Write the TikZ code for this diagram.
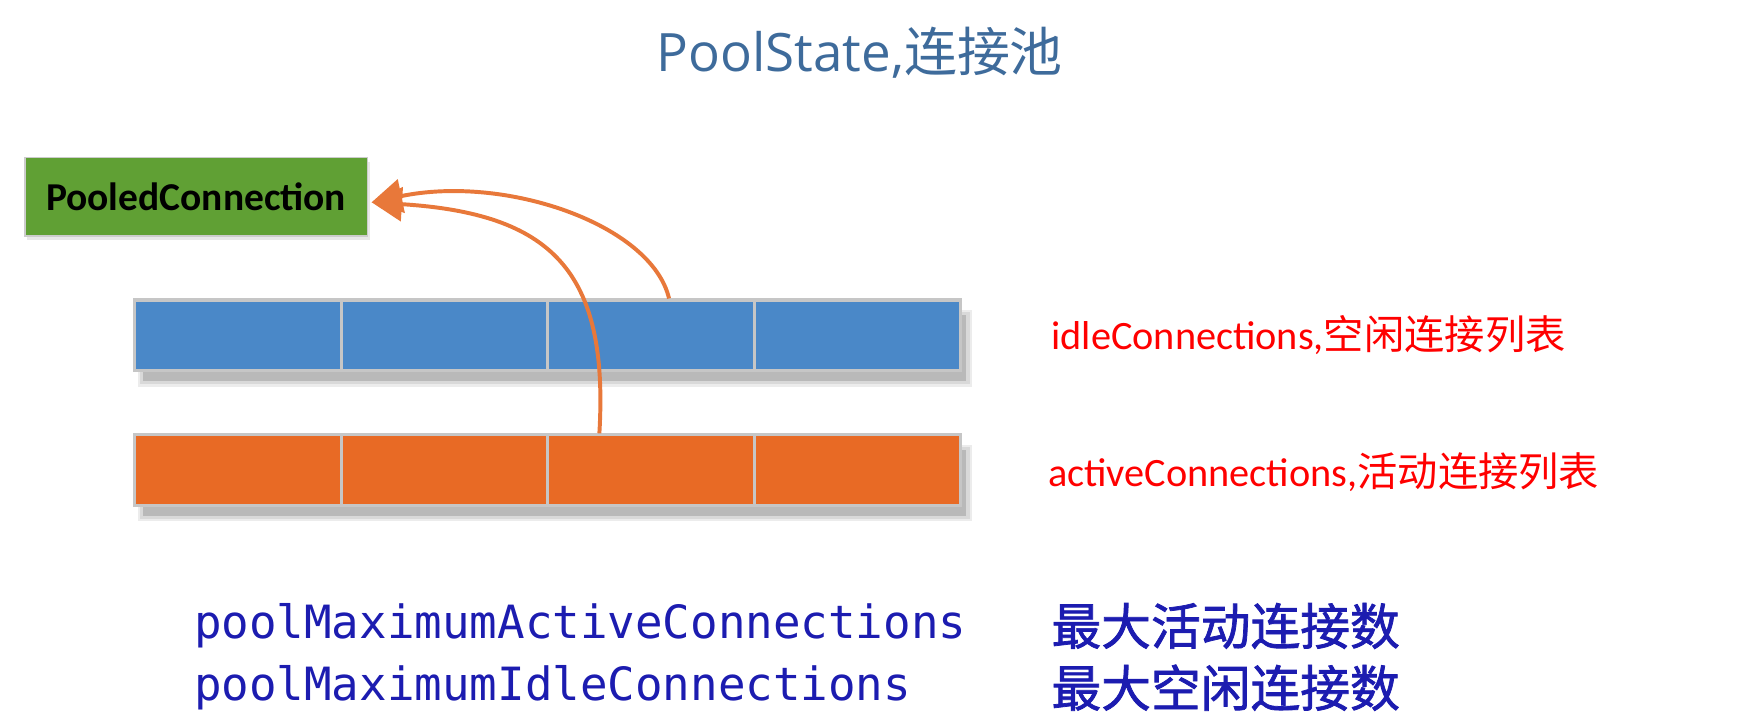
\documentclass[tikz,border=0pt]{standalone}
\usepackage{fontspec}
\setmainfont{Carlito}
\setmonofont{DejaVu Sans Mono}
\newfontfamily\cjk{Noto Sans CJK SC}
\newfontfamily\cjkb[FakeBold=1.5]{Noto Sans CJK SC}
\newfontfamily\titlefont{Open Sans}
\usetikzlibrary{arrows.meta}
\usetikzlibrary{shadows}
\definecolor{idleblue}{RGB}{74,136,200}
\definecolor{activeorange}{RGB}{232,106,37}
\definecolor{pcgreen}{RGB}{96,160,52}
\definecolor{titleblue}{RGB}{62,107,155}
\definecolor{arrorange}{RGB}{232,120,58}
\definecolor{codeblue}{RGB}{28,28,176}

\begin{document}
\begin{tikzpicture}[
		cell/.style={draw=gray!45, line width=0.8pt, minimum width=1.8375cm, minimum height=0.63cm, inner sep=0pt},
		barshadow/.style={fill=gray!55},
		redlabel/.style={anchor=west, inner sep=0pt, text=red, font=\fontsize{10.2pt}{12pt}\selectfont},
		codelabel/.style={anchor=west, inner sep=0pt, text=codeblue, font=\fontsize{11.6pt}{14pt}\selectfont\ttfamily},
		cnlabel/.style={anchor=west, inner sep=0pt, text=codeblue, font=\fontsize{12.6pt}{15pt}\selectfont\cjkb},
		link/.style={arrorange, line width=1pt, -{Triangle[length=0.27cm, width=0.3cm]}}
	]
		\useasboundingbox (0,0) rectangle (15.68,-6.478);

		% title
		\node[text=titleblue, inner sep=0pt] (title) at (7.65,-0.47)
			{\fontsize{13.4pt}{16pt}\selectfont\titlefont PoolState,\cjk 连接池};

		% pooled connection
		\node[draw=gray!40, fill=pcgreen, minimum width=3.05cm, minimum height=0.70cm,
			drop shadow={shadow xshift=0.02cm, shadow yshift=-0.04cm, fill=gray!30, opacity=0.6}]
			(pc) at (1.745,-1.75) {\fontsize{10pt}{12pt}\selectfont\bfseries PooledConnection};
		\coordinate (pctip) at ([xshift=0.03cm,yshift=-0.05cm]pc.east);

		% shadows of the two lists
		\fill[gray!15] (1.23,-3.44) rectangle (8.65,-2.76);
		\fill[gray!30] (1.25,-3.42) rectangle (8.63,-2.78);
		\fill[barshadow] (1.27,-3.39) rectangle (8.60,-2.80);
		\fill[gray!15] (1.23,-4.64) rectangle (8.65,-3.96);
		\fill[gray!30] (1.25,-4.62) rectangle (8.63,-3.98);
		\fill[barshadow] (1.27,-4.59) rectangle (8.60,-4.00);

		% idle / active lists
		\foreach \i in {1,...,4} {
			\node[cell, fill=idleblue] (idle\i) at ({1.20+(\i-0.5)*1.8375},-2.985) {};
			\node[cell, fill=activeorange] (active\i) at ({1.20+(\i-0.5)*1.8375},-4.185) {};
		}

		\node[redlabel] (idlelabel) at (9.35,-2.98) {idleConnections,\cjk 空闲连接列表};
		\node[redlabel] (activelabel) at (9.32,-4.20) {activeConnections,\cjk 活动连接列表};

		% connections go back to PooledConnection
		\draw[link] ([xshift=0.16cm]idle3.north) .. controls (5.8,-2.0) and (4.5,-1.55) .. (pctip);
		\draw[link] ([xshift=-0.46cm]active3.north) .. controls (5.42,-2.4) and (4.9,-1.9) .. (pctip);

		% limits
		\node[codelabel] (maxactive) at (1.72,-5.57) {poolMaximumActiveConnections};
		\node[codelabel] (maxidle) at (1.72,-6.12) {poolMaximumIdleConnections};
		\node[cnlabel] (maxactivecn) at (9.35,-5.57) {最大活动连接数};
		\node[cnlabel] (maxidlecn) at (9.35,-6.12) {最大空闲连接数};
	\end{tikzpicture}
\end{document}
